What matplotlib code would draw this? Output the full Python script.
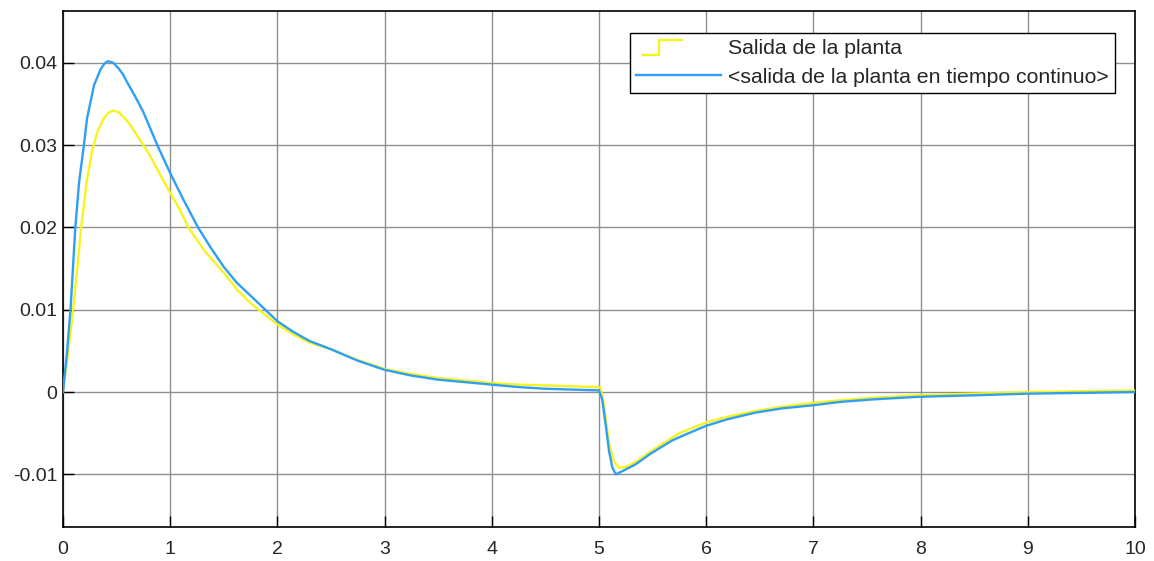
#!/usr/bin/env python3
"""
Respuesta de la planta: salida discreta vs salida en tiempo continuo
"""

import matplotlib
matplotlib.use('Agg')
import matplotlib.pyplot as plt
from matplotlib.lines import Line2D
from matplotlib.legend_handler import HandlerBase

# Salida de la planta (discreta)
t_disc = [0, 0.05, 0.095, 0.17, 0.22, 0.27, 0.32, 0.38, 0.42, 0.467, 0.52, 0.565, 0.62, 0.69, 0.79,
          1.0, 1.08, 1.17, 1.33, 1.5, 1.62, 1.75, 2.0, 2.15, 2.3, 2.5, 2.75, 3.0, 3.25, 3.5, 3.75,
          4.0, 4.25, 4.5, 4.75, 5.0,
          5.015, 5.04, 5.07, 5.10, 5.14, 5.19, 5.25, 5.34, 5.53, 5.75, 6.0, 6.2,
          6.46, 6.7, 7.0, 7.25, 7.55, 7.95, 8.2, 8.5, 9.0, 9.5, 10.0]
y_disc = [0, 0.005, 0.010, 0.020, 0.0255, 0.0292, 0.0316, 0.0332, 0.0339, 0.0342, 0.0340, 0.0334, 0.0326, 0.0312, 0.0292,
          0.0242, 0.0224, 0.0200, 0.0170, 0.0145, 0.0125, 0.0108, 0.0082, 0.0070, 0.0060, 0.0052, 0.0039, 0.0028, 0.0022, 0.0017, 0.0014,
          0.0011, 0.0009, 0.0008, 0.0007, 0.0006,
          0.0005, -0.0010, -0.0040, -0.0066, -0.0085, -0.0092, -0.0091, -0.0085, -0.0068, -0.0050, -0.0037, -0.0030,
          -0.0023, -0.0018, -0.0013, -0.0010, -0.0007, -0.0004, -0.0003, -0.0002, 0.0000, 0.0001, 0.0002]

# Salida de la planta en tiempo continuo
t_cont = [0, 0.035, 0.07, 0.115, 0.15, 0.19, 0.225, 0.29, 0.35, 0.385, 0.42, 0.47, 0.52, 0.56, 0.60, 0.67, 0.75, 0.88,
          1.0, 1.13, 1.26, 1.38, 1.5, 1.62, 1.75, 2.0, 2.15, 2.3, 2.5, 2.75, 3.0, 3.25, 3.5, 3.75,
          4.0, 4.25, 4.5, 4.75, 5.0,
          5.03, 5.0625, 5.094, 5.125, 5.156, 5.22, 5.34, 5.48, 5.68, 5.8, 6.0, 6.2,
          6.46, 6.7, 7.0, 7.25, 7.55, 7.95, 8.2, 8.5, 9.0, 9.5, 10.0]
y_cont = [0, 0.0045, 0.010, 0.020, 0.0255, 0.0295, 0.0333, 0.0373, 0.0392, 0.0399, 0.0402, 0.0400, 0.0393, 0.0386, 0.0376, 0.0360, 0.0340, 0.0300,
          0.0266, 0.0232, 0.0200, 0.0175, 0.0152, 0.0133, 0.0117, 0.0086, 0.0073, 0.0062, 0.0052, 0.0038, 0.0027, 0.0020, 0.0015, 0.0012,
          0.0009, 0.0006, 0.0004, 0.0003, 0.0002,
          -0.0009, -0.0040, -0.0072, -0.0092, -0.0100, -0.0096, -0.0088, -0.0075, -0.0059, -0.0052, -0.0041, -0.0033,
          -0.0025, -0.0020, -0.0016, -0.0012, -0.0009, -0.0006, -0.0005, -0.0004, -0.0002, -0.0001, 0.0000]

labels = ['Salida de la planta', '<salida de la planta en tiempo continuo>']
x_ticks = list(range(0, 11))
y_ticks = [-0.01, 0, 0.01, 0.02, 0.03, 0.04]
y_ticklabels = ['-0.01', '0', '0.01', '0.02', '0.03', '0.04']

AMARILLO = '#f7f31c'
AZUL = '#2e9ff5'


class HandlerEscalon(HandlerBase):
    """Dibuja un escalon en la leyenda para la senal discreta"""
    def create_artists(self, legend, orig_handle, xdescent, ydescent,
                       width, height, fontsize, trans):
        x0 = -xdescent
        y0 = -ydescent
        xs = [x0 + 0.08 * width, x0 + 0.27 * width, x0 + 0.27 * width, x0 + 0.54 * width]
        ys = [y0 - 0.05 * height, y0 - 0.05 * height, y0 + 0.95 * height, y0 + 0.95 * height]
        linea = Line2D(xs, ys, color=orig_handle.get_color(),
                       lw=orig_handle.get_linewidth())
        linea.set_transform(trans)
        return [linea]


def main():
    plt.rcParams['font.family'] = ['Liberation Sans', 'DejaVu Sans']

    fig = plt.figure(figsize=(11.54, 5.61), dpi=100)
    ax = fig.add_axes([63 / 1154, 1 - 527 / 561, (1135 - 63) / 1154, (527 - 11) / 561])

    l1, = ax.plot(t_disc, y_disc, color=AMARILLO, lw=1.7, zorder=3)
    l2, = ax.plot(t_cont, y_cont, color=AZUL, lw=1.7, zorder=4)

    ax.set_xlim(0, 10)
    ax.set_ylim(-0.0164, 0.0463)
    ax.set_xticks(x_ticks)
    ax.set_yticks(y_ticks)
    ax.set_yticklabels(y_ticklabels)
    ax.tick_params(direction='in', length=8, width=1, labelsize=14, color='black',
                   labelcolor='#262626')
    ax.tick_params(axis='y', pad=4)
    ax.tick_params(axis='x', pad=10)

    ax.grid(True, color='#8f8f8f', lw=1)
    ax.set_axisbelow(True)
    for s in ax.spines.values():
        s.set_color('black')
        s.set_linewidth(1.2)

    leg = ax.legend([l1, l2], labels, loc='upper right',
                    bbox_to_anchor=(0.981, 0.958), fontsize=15.3,
                    handlelength=4.0, handletextpad=0.3, labelspacing=0.45,
                    borderpad=0.3, borderaxespad=0, fancybox=False,
                    handler_map={l1: HandlerEscalon()})
    leg.get_frame().set_edgecolor('black')
    leg.get_frame().set_linewidth(1.0)
    leg.get_frame().set_alpha(1)
    for txt in leg.get_texts():
        txt.set_color('#262626')

    fig.savefig('out.png', dpi=100)
    plt.close(fig)


if __name__ == "__main__":
    main()
